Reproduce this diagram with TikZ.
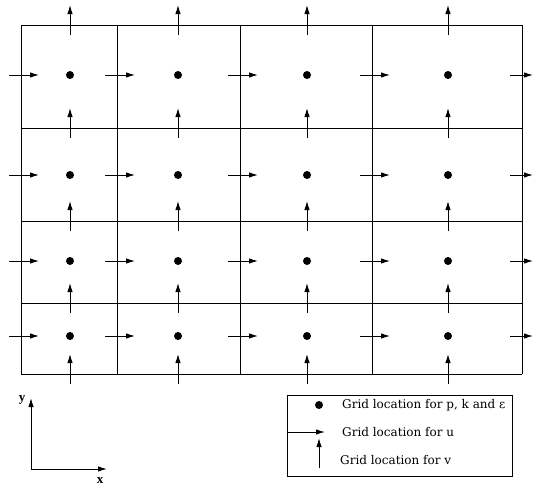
\documentclass[tikz,border=0pt]{standalone}
\usepackage{fontspec}
\setmainfont{Liberation Serif}
\newfontfamily\legfont{DejaVu Serif}
\usetikzlibrary{arrows.meta}
\begin{document}
\begin{tikzpicture}[x=1pt,y=-1pt,
  gridline/.style={line width=1pt},
  vec/.style={line width=1pt,-{Latex[length=9pt,width=5.5pt]}},
  dotmark/.style={circle,fill=black,inner sep=0pt,minimum size=8pt},
  legtext/.style={anchor=west,font=\legfont\fontsize{12}{14}\selectfont,inner sep=0pt},
  axlabel/.style={font=\fontsize{13}{15}\selectfont\bfseries,inner sep=0pt}]
\useasboundingbox (0,0) rectangle (533,490);
% grid lines
\foreach \x in {21,117,240,372,522} \draw[gridline] (\x,25) -- (\x,374);
\foreach \y in {25,128,221,303,374} \draw[gridline] (21,\y) -- (522,\y);
% pressure points
\foreach \x in {70,178,307,448} \foreach \y in {75,175,261,336}
  \node[dotmark] at (\x,\y) {};
% u arrows
\foreach \y in {75,175,261,336} {
  \foreach \x in {21,117,240,372} \draw[vec] (\x-12,\y) -- (\x+18,\y);
  \draw[vec] (510,\y) -- (533,\y);
}
% v arrows
\foreach \x in {70,178,307,448} \foreach \y in {25,128,221,303,374}
  \draw[vec] (\x,\y+10) -- (\x,\y-20);
% axes
\coordinate (O) at (31,469);
\coordinate (ytip) at (31,398);
\coordinate (xtip) at (107,469);
\draw[vec] (O) -- (ytip);
\draw[vec] (O) -- (xtip);
\node[axlabel] (ylab) at (22,400) {y};
\node[axlabel] (xlab) at (100,481) {x};
% legend
\node[draw,line width=0.9pt,minimum width=225pt,minimum height=81pt,anchor=north west,inner sep=0pt] (leg) at (287,395) {};
\node[dotmark] (ld) at (319,405) {};
\node[legtext] (t1) at (342,405) {Grid location for p, k and ε};
\coordinate (lu1) at (288,432);
\coordinate (lu2) at (325,432);
\draw[vec] (lu1) -- (lu2);
\node[legtext] (t2) at (342,432) {Grid location for u};
\coordinate (lv1) at (319,468);
\coordinate (lv2) at (319,438);
\draw[vec] (lv1) -- (lv2);
\node[legtext] (t3) at (340,460) {Grid location for v};
\end{tikzpicture}
\end{document}
